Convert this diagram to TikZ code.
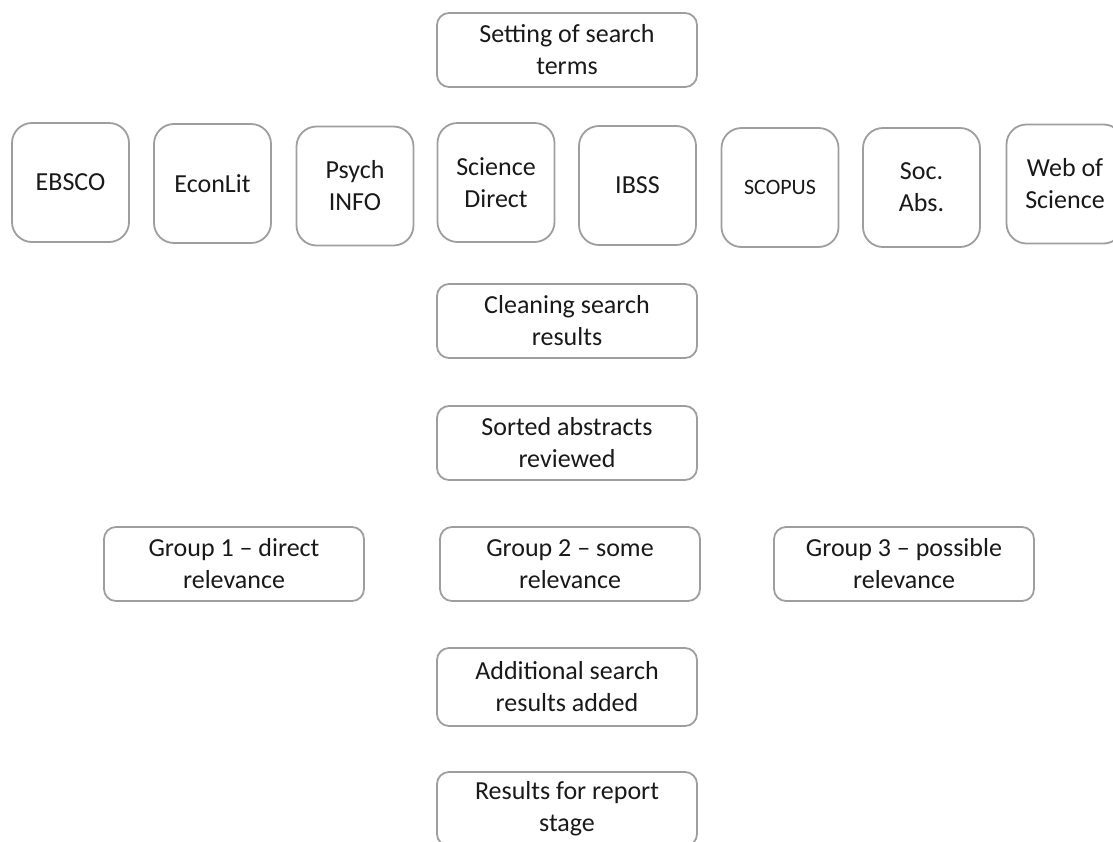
\documentclass[tikz,border=0pt]{standalone}
\usepackage{fontspec}
\setmainfont{Carlito}
\begin{document}
\begin{tikzpicture}[x=1pt,y=-1pt,
  box/.style={draw=black!38, line width=1.8pt, align=center, inner sep=0pt,
    text=black!90, font=\fontsize{26}{32}\selectfont},
  wide/.style={box, rounded corners=12pt, minimum width=260pt, minimum height=74pt},
  db/.style={box, rounded corners=20pt, minimum width=117pt, minimum height=119pt}]
\useasboundingbox (0,0) rectangle (1113,841);
\clip (0,0) rectangle (1113,841);
\node[wide] (set) at (567,50) {Setting of search\\terms};
\node[db] (ebsco) at (70.5,182.5) {EBSCO};
\node[db] (econ) at (212.5,183.5) {EconLit};
\node[db] (psych) at (355,186) {Psych\\INFO};
\node[db] (sd) at (496,182.5) {Science\\Direct};
\node[db] (ibss) at (637.5,185.5) {IBSS};
\node[db, font=\fontsize{22}{27}\selectfont] (scopus) at (780,187.5) {SCOPUS};
\node[db] (soc) at (921.5,187.5) {Soc.\\Abs.};
\node[db] (wos) at (1065,184) {Web of\\Science};
\node[wide] (clean) at (567,321) {Cleaning search\\results};
\node[wide] (sorted) at (567,443) {Sorted abstracts\\reviewed};
\node[wide] (g1) at (234,564) {Group 1 -- direct\\relevance};
\node[wide] (g2) at (570,564) {Group 2 -- some\\relevance};
\node[wide] (g3) at (904,564) {Group 3 -- possible\\relevance};
\node[wide, minimum height=78pt] (add) at (567,687) {Additional search\\results added};
\node[wide] (res) at (567,809) {Results for report\\stage};
\end{tikzpicture}
\end{document}
